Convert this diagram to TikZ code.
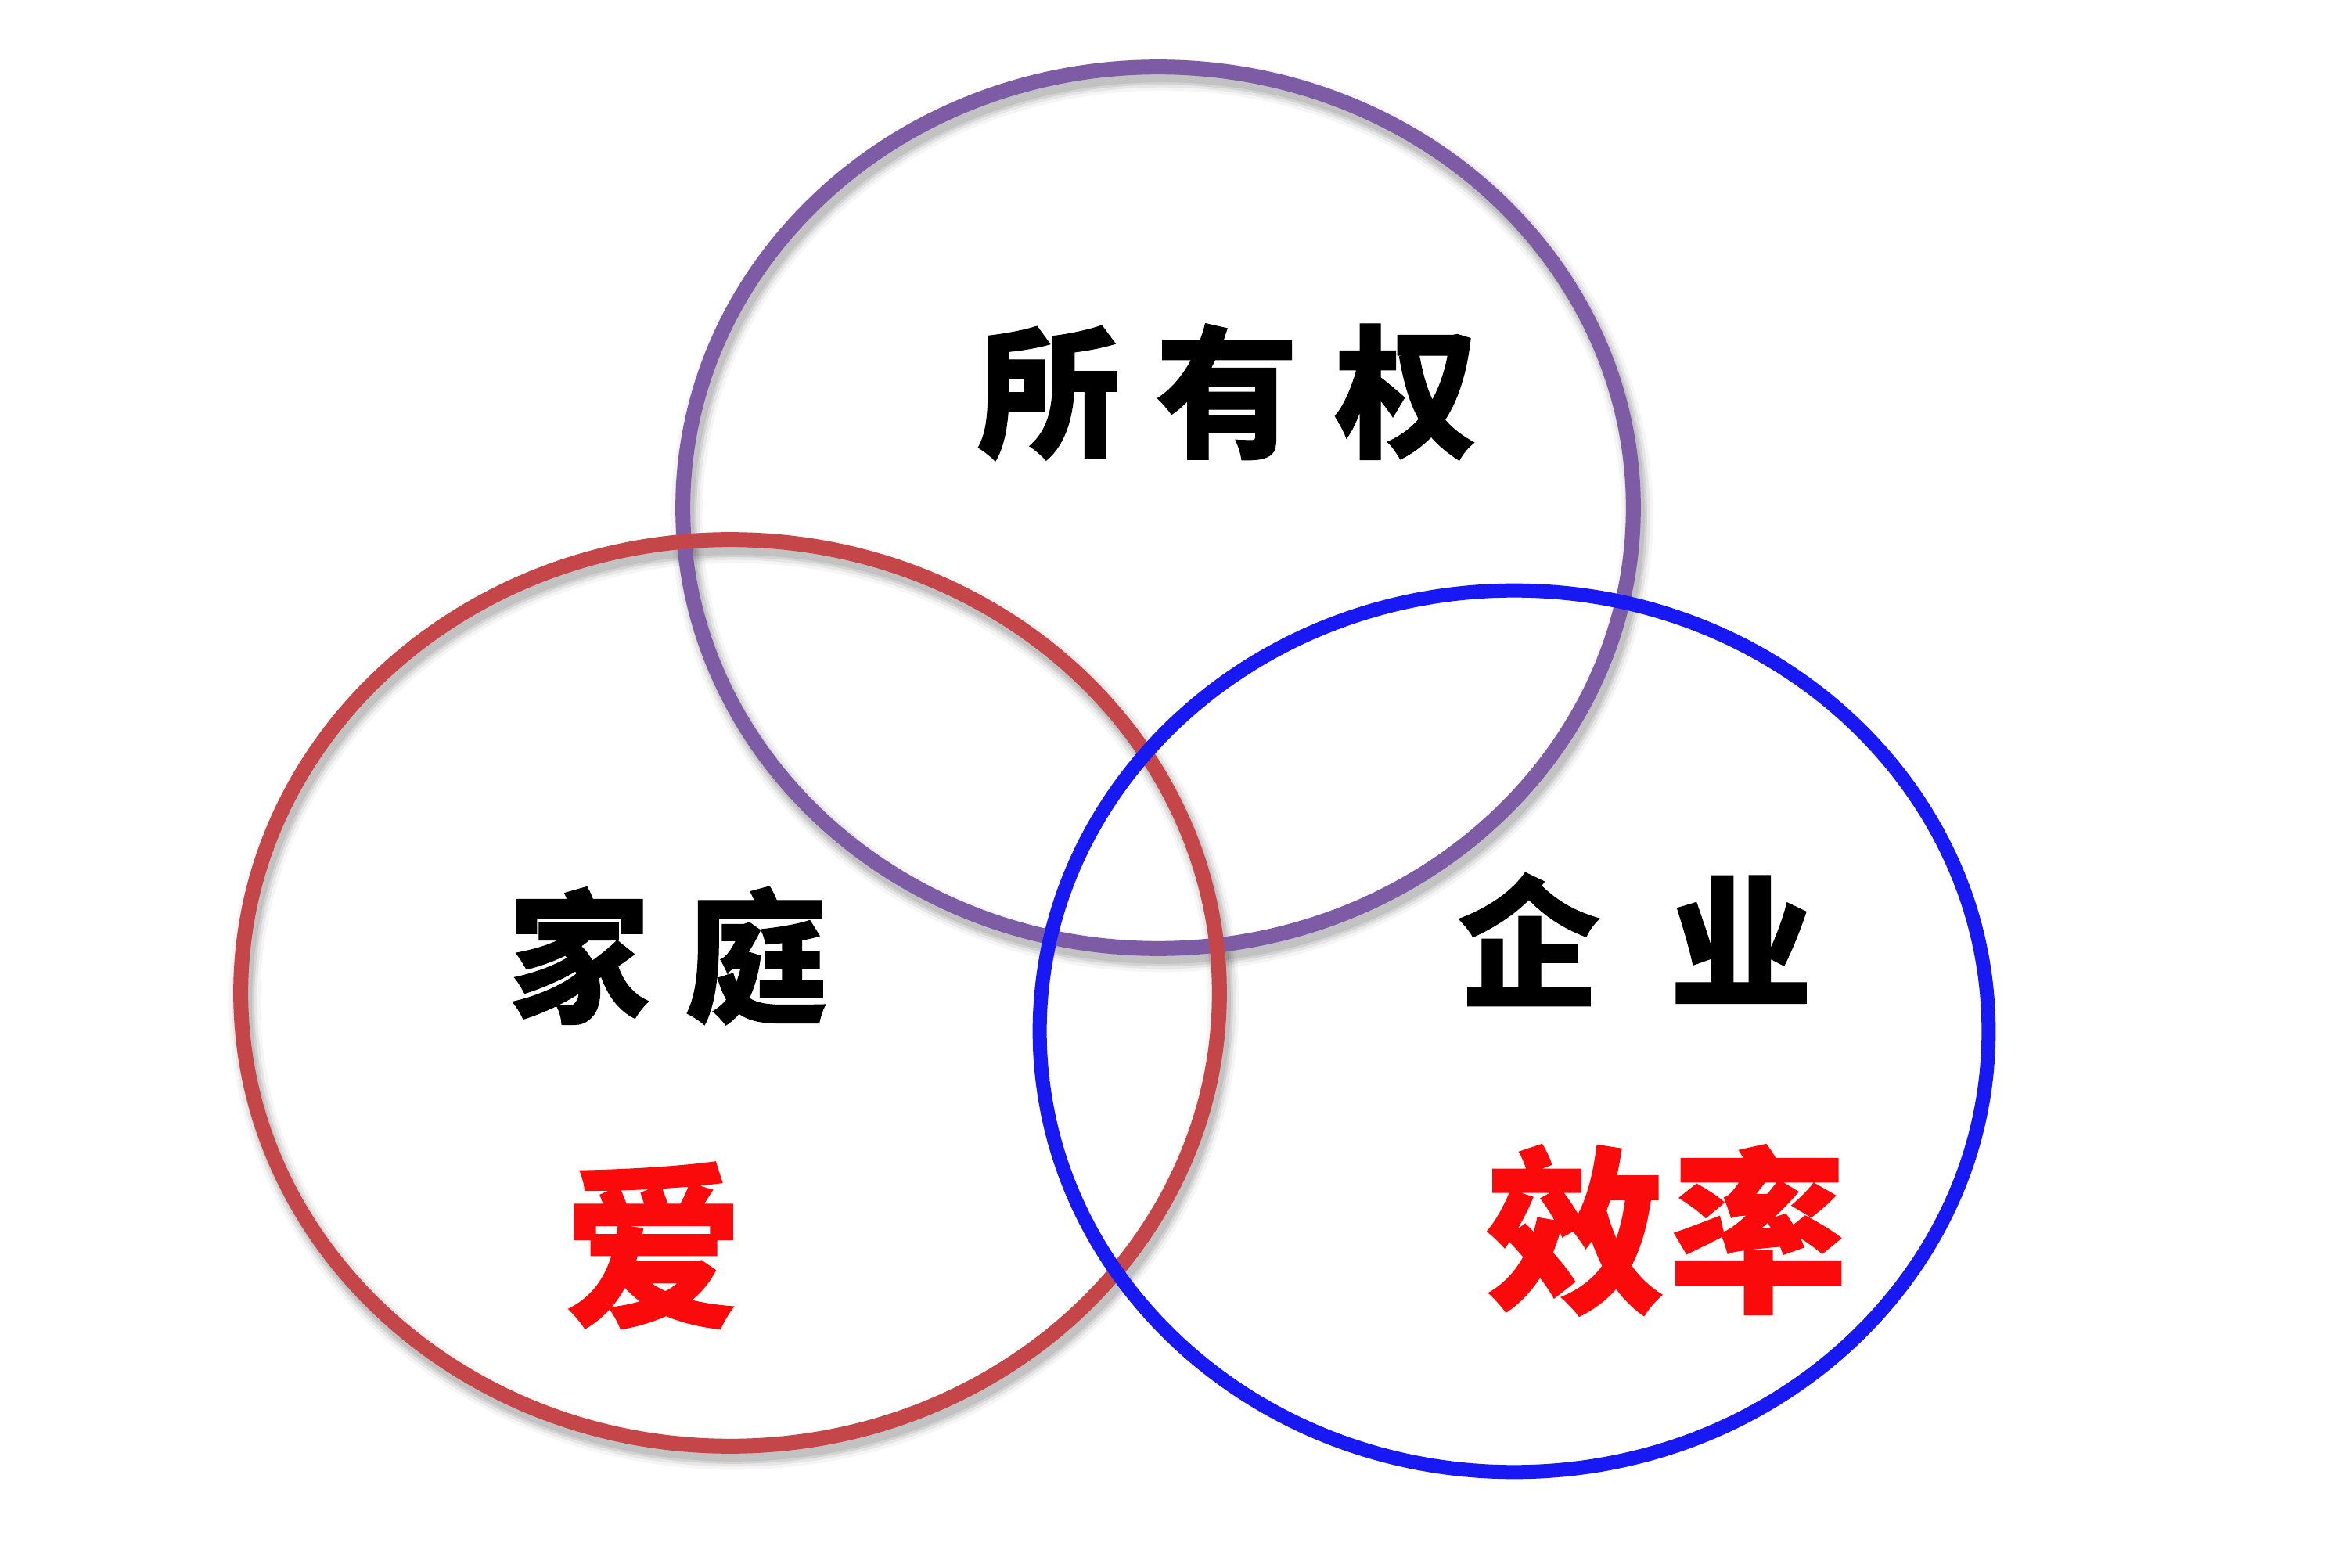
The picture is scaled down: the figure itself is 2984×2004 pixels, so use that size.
\documentclass[tikz,border=0pt]{standalone}
\usepackage{fontspec}
\newfontfamily\cjk{Noto Sans CJK SC}[BoldFeatures={FakeBold=0.6}]
\definecolor{purp}{RGB}{125,92,165}
\definecolor{ringred}{RGB}{196,70,72}
\definecolor{ringblue}{RGB}{24,24,242}
\definecolor{txtred}{RGB}{250,10,10}
\begin{document}
\begin{tikzpicture}[x=0.01cm,y=-0.01cm,
  ring/.style={line width=0.19cm},
  shd/.style={black, line cap=round},
  blk/.style={font=\cjk\bfseries\fontsize{52}{56}\selectfont, text height=0.8em, text depth=0.05em, inner sep=0pt, text=black},
  redt/.style={font=\cjk\bfseries\fontsize{65}{70}\selectfont, text height=0.8em, text depth=0.05em, inner sep=0pt, text=txtred}]
\useasboundingbox[fill=white] (0,0) rectangle (2984,2004);
% shadows
\foreach \w/\o in {0.40/0.04, 0.32/0.06, 0.25/0.08, 0.19/0.08}{
  \draw[shd, line width=\w cm, opacity=\o, xshift=0.05cm, yshift=-0.10cm] (1480,649) ellipse [x radius=6.07cm, y radius=5.63cm];
  \draw[shd, line width=\w cm, opacity=\o, xshift=0.05cm, yshift=-0.10cm] (933,1269) ellipse [x radius=6.25cm, y radius=5.79cm];
}
% rings
\draw[ring, purp] (1480,649) ellipse [x radius=6.07cm, y radius=5.63cm];
\draw[ring, ringred] (933,1269) ellipse [x radius=6.25cm, y radius=5.79cm];
\draw[ring, ringblue, line width=0.18cm] (1935,1318) ellipse [x radius=6.06cm, y radius=5.63cm];
% texts
\node[blk] (suo) at (1340,557) {所};
\node[blk] (you) at (1568,557) {有};
\node[blk] (quan) at (1797,557) {权};
\node[blk] (jia) at (740,1279) {家};
\node[blk] (ting) at (966,1279) {庭};
\node[blk] (qi) at (1954,1260) {企};
\node[blk] (ye) at (2225,1260) {业};
\node[redt] (ai) at (835,1664) {爱};
\node[redt] (xiao) at (2013,1646) {效};
\node[redt] (lv) at (2247,1646) {率};
\end{tikzpicture}
\end{document}
